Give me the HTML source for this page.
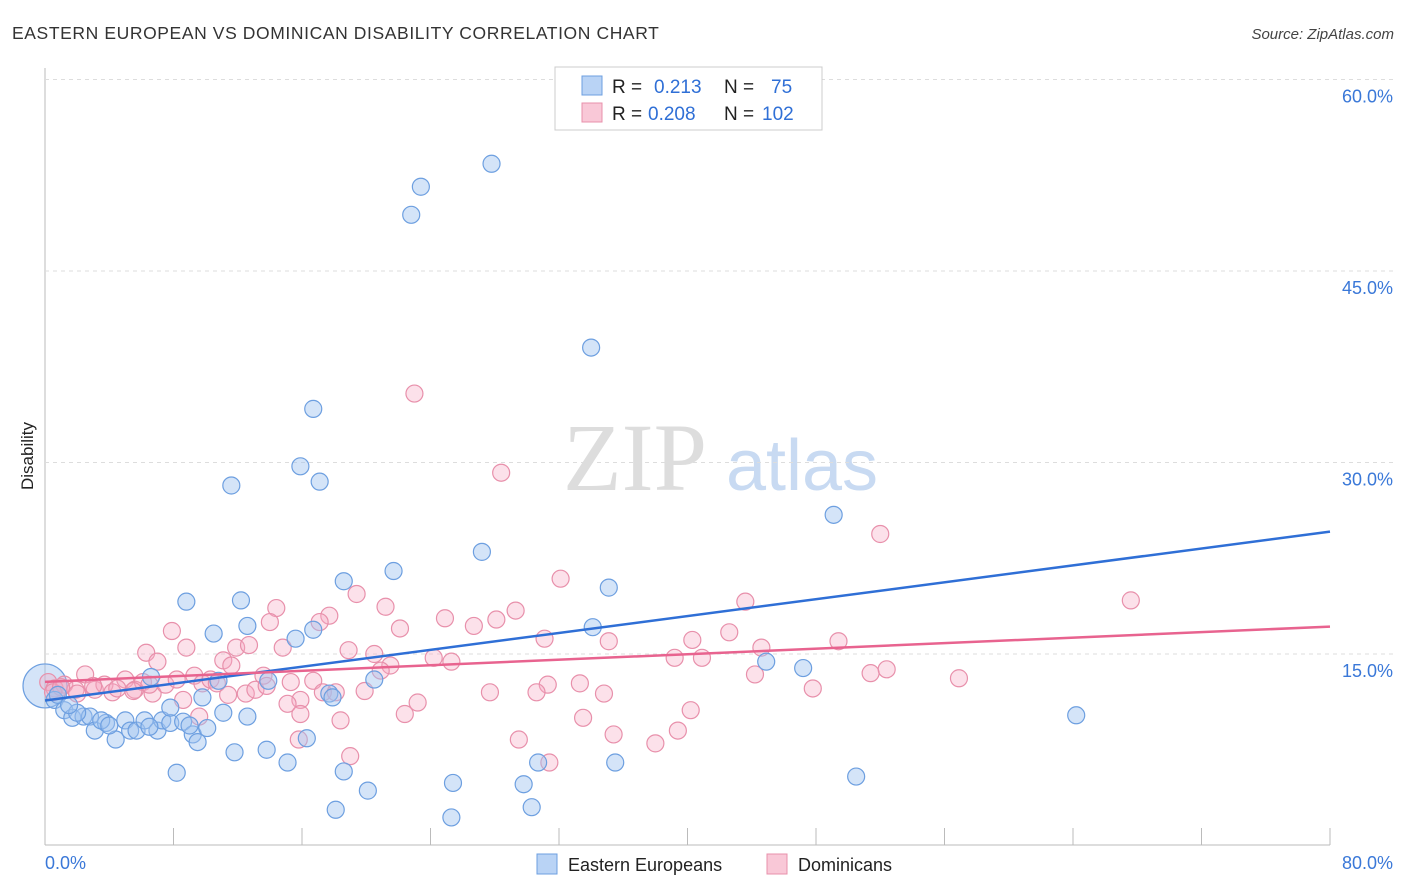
<!DOCTYPE html>
<html><head><meta charset="utf-8"><style>
body{margin:0;background:#fff;font-family:"Liberation Sans",sans-serif}
</style></head><body>
<svg id="c" width="1406" height="892" xmlns="http://www.w3.org/2000/svg" style="display:block">
<text x="12" y="39" font-size="17.5" fill="#333" letter-spacing="0.6">EASTERN EUROPEAN VS DOMINICAN DISABILITY CORRELATION CHART</text>
<text x="1394" y="39" font-size="15" fill="#444" text-anchor="end" font-style="italic">Source: ZipAtlas.com</text>
<text transform="translate(33,456) rotate(-90)" font-size="17" fill="#222" text-anchor="middle">Disability</text>
<g>
<text x="635" y="490" font-size="96" fill="#ddd" font-family="Liberation Serif" text-anchor="middle">ZIP</text>
<text x="802" y="490" font-size="72" fill="#c8daf2" text-anchor="middle">atlas</text>
</g>
<g id="grid"></g><g id="marks"></g><g id="lines"></g>
<g>
<rect x="555" y="67" width="267" height="63" fill="#fff" stroke="#ccc"/>
<rect x="582" y="76" width="20" height="19" fill="#b9d3f5" stroke="#6d9fe0"/>
<rect x="582" y="103" width="20" height="19" fill="#f9c8d7" stroke="#e890ab"/>
<text x="612" y="93" font-size="19" fill="#222">R = </text><text x="654" y="93" font-size="19" fill="#2f6fd6">0.213</text>
<text x="724" y="93" font-size="19" fill="#222">N = </text><text x="771" y="93" font-size="19" fill="#2f6fd6">75</text>
<text x="612" y="120" font-size="19" fill="#222">R = </text><text x="648" y="120" font-size="19" fill="#2f6fd6">0.208</text>
<text x="724" y="120" font-size="19" fill="#222">N = </text><text x="762" y="120" font-size="19" fill="#2f6fd6">102</text>
</g>
<g>
<rect x="537" y="854" width="20" height="20" fill="#b9d3f5" stroke="#6d9fe0"/>
<text x="568" y="871" font-size="18" fill="#222">Eastern Europeans</text>
<rect x="767" y="854" width="20" height="20" fill="#f9c8d7" stroke="#e890ab"/>
<text x="798" y="871" font-size="18" fill="#222">Dominicans</text>
</g>
</svg>
<script>
const xTicks=[0,10,20,30,40,50,60,70,80];
const yTicks=[15,30,45,60];
const blueX=[27.8,23.4,22.8,34.0,16.7,15.9,17.1,11.6,49.1,27.2,21.7,18.6,35.1,8.8,12.2,12.6,10.5,15.6,16.7,34.1,44.9,47.2,6.6,13.9,20.5,10.8,9.8,17.7,17.9,64.2,0.6,1.2,1.7,2.4,2.8,3.1,3.8,4.4,5.0,5.3,5.7,6.2,7.0,7.3,7.8,8.6,9.2,9.5,10.1,11.1,12.6,8.2,11.8,13.8,15.1,16.3,18.6,18.1,20.1,25.3,25.4,29.8,30.3,30.7,35.5,50.5,7.8,2.0,3.5,0.8,4.0,6.5,9.0,1.5];
const blueY=[53.4,51.6,49.4,39.0,34.2,29.7,28.5,28.2,25.9,23.0,21.5,20.7,20.2,19.1,19.2,17.2,16.6,16.2,16.9,17.1,14.4,13.9,13.2,12.9,13.0,12.9,11.6,11.9,11.6,10.2,11.4,10.6,10.0,10.1,10.1,9.0,9.6,8.3,9.8,9.0,9.0,9.8,9.0,9.8,9.6,9.7,8.7,8.1,9.2,10.4,10.1,5.7,7.3,7.5,6.5,8.4,5.8,2.8,4.3,2.2,4.9,4.8,3.0,6.5,6.5,5.4,10.8,10.4,9.8,11.8,9.4,9.3,9.4,11.0];
const pinkX=[23.0,28.4,52.0,32.1,67.6,43.6,19.4,14.4,21.2,17.7,24.9,28.1,29.3,17.1,22.1,26.7,14.0,7.9,31.1,35.1,40.3,42.6,49.4,8.8,11.9,12.7,14.8,18.9,20.5,6.3,7.0,11.1,11.6,24.2,25.3,21.5,20.9,39.2,40.9,44.6,44.2,51.4,52.4,56.9,47.8,0.2,0.6,1.2,1.9,2.5,3.1,3.7,4.2,5.0,5.6,6.1,6.7,7.5,8.2,8.6,9.3,9.8,10.3,10.7,11.4,12.5,13.1,13.6,13.8,15.3,15.9,16.7,17.3,18.1,9.6,15.1,15.9,18.4,22.4,23.2,19.9,31.3,33.3,34.8,30.6,27.7,33.5,40.2,39.4,29.5,15.8,19.0,31.4,35.4,38.0,0.5,1.0,2.0,3.0,4.5,5.5,6.5];
const pinkY=[35.4,29.2,24.4,20.9,19.2,19.1,19.7,18.6,18.7,18.0,17.8,17.7,18.4,17.5,17.0,17.2,17.5,16.8,16.2,16.0,16.1,16.7,16.0,15.5,15.5,15.7,15.5,15.3,15.0,15.1,14.4,14.5,14.1,14.7,14.4,14.1,13.7,14.7,14.7,15.5,13.4,13.5,13.8,13.1,12.3,12.8,12.3,12.6,12.2,13.4,12.2,12.6,12.0,13.0,12.2,12.8,11.9,12.6,13.0,11.4,13.3,12.7,13.0,12.7,11.8,11.9,12.2,13.3,12.5,12.8,11.4,12.9,12.0,12.0,10.1,11.1,10.3,9.8,10.3,11.2,12.1,12.6,12.7,11.9,12.0,12.0,10.0,10.6,9.0,8.3,8.3,7.0,6.5,8.7,8.0,12.0,12.4,11.9,12.5,12.3,12.1,12.6];
const X=v=>45+v*(1285/80), Y=v=>845.5-v*(766/60);
const NS="http://www.w3.org/2000/svg";
function mk(t,a,p){const e=document.createElementNS(NS,t);for(const k in a)e.setAttribute(k,a[k]);p.appendChild(e);return e;}
const grid=document.getElementById('grid');
mk('line',{x1:45,y1:68,x2:45,y2:845,stroke:'#bbb'},grid);
mk('line',{x1:45,y1:845,x2:1330,y2:845,stroke:'#bbb'},grid);
yTicks.forEach(t=>{
 const l=mk('line',{x1:45,y1:Y(t),x2:1394,y2:Y(t),stroke:'#ddd','stroke-dasharray':'4,4'},grid);
 
 
 const tx=mk('text',{x:1393,y:Y(t)+23,'font-size':18,fill:'#3a78d8','text-anchor':'end'},grid);
 tx.textContent=t.toFixed(1)+'%';
 
 
});
for(let i=0;i<=10;i++){const x=X(i*8);const l=mk('line',{x1:x,y1:828,x2:x,y2:845,stroke:'#bbb'},grid);
 
 }
[[0,'0.0%',45,'start'],[80,'80.0%',1393,'end']].forEach(d=>{const t=mk('text',{x:d[2],y:869,'font-size':18,fill:'#3a78d8','text-anchor':d[3]},grid);t.textContent=d[1];
 
 });
const marks=document.getElementById('marks');
const big=mk('circle',{cx:X(0),cy:Y(12.5),r:22,fill:'rgba(160,195,240,0.45)',stroke:'#6d9fe0','stroke-width':1.2},marks);


function pts(xs,ys,fill,stroke,name){xs.forEach((v,i)=>{const c=mk('circle',{cx:X(v),cy:Y(ys[i]),r:8.5,fill:fill,stroke:stroke,'stroke-width':1.2},marks);
 
 });}
pts(pinkX,pinkY,'rgba(245,170,195,0.35)','#e890ab','dominican-point');
pts(blueX,blueY,'rgba(160,195,240,0.45)','#6d9fe0','eastern-european-point');
function reg(xs,ys){const n=xs.length;let mx=0,my=0;xs.forEach((v,i)=>{mx+=v;my+=ys[i]});mx/=n;my/=n;let sxy=0,sxx=0;xs.forEach((v,i)=>{sxy+=(v-mx)*(ys[i]-my);sxx+=(v-mx)*(v-mx)});const b=sxy/sxx;return [my-b*mx,b];}
const lines=document.getElementById('lines');
[[blueX,blueY,'#2f6fd6','blue-trendline'],[pinkX,pinkY,'#e8638f','pink-trendline']].forEach(d=>{const r=reg(d[0],d[1]);
 const l=mk('line',{x1:X(0),y1:Y(r[0]),x2:X(80),y2:Y(r[0]+r[1]*80),stroke:d[2],'stroke-width':2.5},lines);
 
 });
</script>
</body></html>
